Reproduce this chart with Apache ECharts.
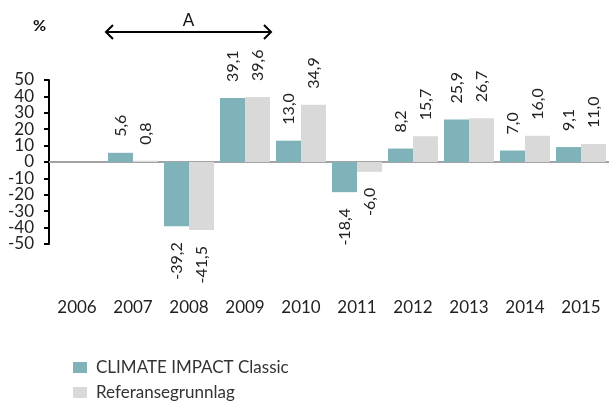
<!DOCTYPE html>
<html>
<head>
<meta charset="utf-8">
<script src="https://cdn.jsdelivr.net/npm/echarts@6/dist/echarts.min.js"></script>
<style>
html,body{margin:0;padding:0;background:#fff;}
#chart{width:609px;height:403px;}
</style>
</head>
<body>
<div id="chart"></div>
<script>
const categories = ['2006','2007','2008','2009','2010','2011','2012','2013','2014','2015'];
const climateImpact = [null, 5.6, -39.2, 39.1, 13.0, -18.4, 8.2, 25.9, 7.0, 9.1];
const referanse = [null, 0.8, -41.5, 39.6, 34.9, -6.0, 15.7, 26.7, 16.0, 11.0];
const seriesNames = ['CLIMATE IMPACT Classic', 'Referansegrunnlag'];
const yTicks = {min: -50, max: 50, interval: 10};
const yTickLabels = ['-50','-40','-30','-20','-10','0','10','20','30','40','50'];
const periodLabel = 'A';
const periodRange = ['2007', '2009'];

const FONT = 'Lato';
const fmt = v => v.toFixed(1).replace('.', ',');

function buildData(arr) {
  return arr.map(v => {
    if (v === null) return null;
    return {
      value: v,
      label: {
        show: true,
        position: v >= 0 ? 'top' : 'bottom',
        rotate: 90,
        align: v >= 0 ? 'left' : 'right',
        verticalAlign: 'middle',
        distance: 16,
        formatter: () => fmt(v),
        color: '#222',
        fontSize: 16,
        fontFamily: FONT
      }
    };
  });
}

const chart = echarts.init(document.getElementById('chart'), null, {renderer: 'canvas'});
const option = {
  animation: false,
  textStyle: {fontFamily: FONT},
  grid: {left: 49, right: -4, top: 80, bottom: 159, containLabel: false},
  legend: {
    orient: 'vertical',
    left: 73, top: 359,
    padding: 0,
    itemWidth: 14, itemHeight: 11,
    itemGap: 8,
    icon: 'rect',
    textStyle: {fontSize: 17, color: '#333', fontFamily: FONT, padding: [0, 0, 0, 4]},
    data: seriesNames
  },
  xAxis: {
    type: 'category',
    data: categories,
    axisLine: {show: false, onZero: false},
    axisTick: {show: false},
    axisLabel: {margin: 55, fontSize: 17, color: '#222', fontFamily: FONT}
  },
  yAxis: [
    {
      type: 'value',
      min: yTicks.min, max: yTicks.max, interval: yTicks.interval,
      axisLine: {show: true, onZero: false, lineStyle: {color: '#000', width: 2}},
      axisTick: {show: true, length: 5, lineStyle: {color: '#000', width: 2}},
      axisLabel: {show: false},
      splitLine: {show: false}
    },
    {
      type: 'category',
      data: yTickLabels,
      boundaryGap: false,
      position: 'left',
      axisLine: {show: false, onZero: false},
      axisTick: {show: false},
      axisLabel: {show: true, interval: 0, margin: 15, fontSize: 17, color: '#222', fontFamily: FONT},
      splitLine: {show: false}
    }
  ],
  series: [
    {
      name: seriesNames[0], type: 'bar', barWidth: 25, barGap: '0%', yAxisIndex: 0,
      itemStyle: {color: '#7fb3b9'},
      data: buildData(climateImpact),
      markLine: {
        silent: true, symbol: 'none', label: {show: false},
        lineStyle: {color: '#a3a3a3', width: 2, type: 'solid'},
        data: [{yAxis: 0}],
        z: 1
      }
    },
    {
      name: seriesNames[1], type: 'bar', barWidth: 25, barGap: '0%', yAxisIndex: 0,
      itemStyle: {color: '#d9d9d9'},
      data: buildData(referanse)
    }
  ]
};
chart.setOption(option);

// period annotation arrow computed from the category axis
const i0 = categories.indexOf(periodRange[0]);
const i1 = categories.indexOf(periodRange[1]);
const c0 = chart.convertToPixel({xAxisIndex: 0}, categories[i0]);
const c1 = chart.convertToPixel({xAxisIndex: 0}, categories[i1]);
const step = chart.convertToPixel({xAxisIndex: 0}, categories[i0 + 1]) - c0;
const xL = c0 - step / 2 + 1;
const xR = c1 + step / 2 - 2;
const yA = 32;
const ah = 7;
chart.setOption({
  graphic: [
    {type: 'text', left: 33, top: 18, style: {text: '%', font: 'bold 16px ' + FONT, fill: '#111'}},
    {type: 'text', x: (xL + xR) / 2, y: 21, style: {text: periodLabel, font: '17px ' + FONT, fill: '#111', align: 'center', verticalAlign: 'middle'}},
    {type: 'line', shape: {x1: xL, y1: yA, x2: xR, y2: yA}, style: {stroke: '#000', lineWidth: 2}},
    {type: 'polyline', shape: {points: [[xL + ah, yA - ah], [xL, yA], [xL + ah, yA + ah]]}, style: {stroke: '#000', lineWidth: 2, fill: null}},
    {type: 'polyline', shape: {points: [[xR - ah, yA - ah], [xR, yA], [xR - ah, yA + ah]]}, style: {stroke: '#000', lineWidth: 2, fill: null}}
  ]
});
</script>
</body>
</html>
